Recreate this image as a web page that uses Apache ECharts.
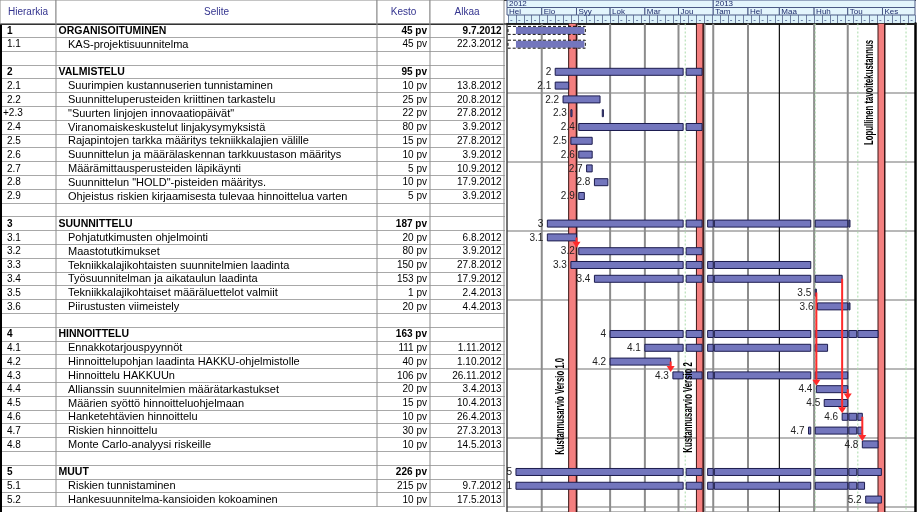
<!DOCTYPE html>
<html><head><meta charset="utf-8">
<script src="https://cdn.jsdelivr.net/npm/echarts@6/dist/echarts.min.js"></script>
<style>html,body{margin:0;padding:0;background:#fff}#c{width:917px;height:512px}</style>
</head><body><div id="c"></div>
<script>
// ---------------- DATA ----------------
const columns = ['Hierarkia', 'Selite', 'Kesto', 'Alkaa'];
const hier = ['1','1.1','','2','2.1','2.2','+2.3','2.4','2.5','2.6','2.7','2.8','2.9','','3','3.1','3.2','3.3','3.4','3.5','3.6','','4','4.1','4.2','4.3','4.4','4.5','4.6','4.7','4.8','','5','5.1','5.2'];
const selite = ['ORGANISOITUMINEN','KAS-projektisuunnitelma','','VALMISTELU',
 'Suurimpien kustannuserien tunnistaminen','Suunnitteluperusteiden kriittinen tarkastelu',
 '"Suurten linjojen innovaatiopäivät"','Viranomaiskeskustelut linjakysymyksistä',
 'Rajapintojen tarkka määritys tekniikkalajien välille','Suunnittelun ja määrälaskennan tarkkuustason määritys',
 'Määrämittausperusteiden läpikäynti','Suunnittelun "HOLD"-pisteiden määritys.',
 'Ohjeistus riskien kirjaamisesta tulevaa hinnoittelua varten','','SUUNNITTELU',
 'Pohjatutkimusten ohjelmointi','Maastotutkimukset','Tekniikkalajikohtaisten suunnitelmien laadinta',
 'Työsuunnitelman ja aikataulun laadinta','Tekniikkalajikohtaiset määräluettelot valmiit','Piirustusten viimeistely','',
 'HINNOITTELU','Ennakkotarjouspyynnöt','Hinnoittelupohjan laadinta HAKKU-ohjelmistolle','Hinnoittelu HAKKUUn',
 'Allianssin suunnitelmien määrätarkastukset','Määrien syöttö hinnoitteluohjelmaan','Hanketehtävien hinnoittelu',
 'Riskien hinnoittelu','Monte Carlo-analyysi riskeille','','MUUT','Riskien tunnistaminen','Hankesuunnitelma-kansioiden kokoaminen'];
const kesto = [45,45,null,95,10,25,22,80,15,10,5,10,5,null,187,20,80,150,153,1,20,null,163,111,40,106,20,15,10,30,10,null,226,215,10];
const alkaa = ['9.7.2012','22.3.2012','','','13.8.2012','20.8.2012','27.8.2012','3.9.2012','27.8.2012','3.9.2012','10.9.2012','17.9.2012','3.9.2012','',
 '','6.8.2012','3.9.2012','27.8.2012','17.9.2012','2.4.2013','4.4.2013','',
 '','1.11.2012','1.10.2012','26.11.2012','3.4.2013','10.4.2013','26.4.2013','27.3.2013','14.5.2013','',
 '','9.7.2012','17.5.2013'];
const barStartOverride = {'1.1': '9.7.2012'};
const splitPieces = {'+2.3': [['27.8.2012', 1], ['24.9.2012', 1]]};
const dashedRows = ['1', '1.1'];
const holidays = ['24.12.2012','25.12.2012','26.12.2012','1.1.2013','29.3.2013','1.4.2013','1.5.2013','9.5.2013'];
const splitDays = ['6.12.2012'];
const links = [['3.1','3.2'],['4.2','4.3'],['3.5','4.4'],['3.4','4.6'],['4.4','4.5'],['4.6','4.8']];
const markerFrom = ['25.8.2012', '17.12.2012', '28.5.2013'];
const markerTo = ['31.8.2012', '22.12.2012', '2.6.2013'];
const markerText = ['Kustannusarvio Versio 1.0', 'Kustannusarvio Versio 2', 'Lopullinen tavoitekustannus'];
const years = [['1.7.2012','2012'],['1.1.2013','2013']];
const months = [['1.7.2012','Hei'],['1.8.2012','Elo'],['1.9.2012','Syy'],['1.10.2012','Lok'],['1.11.2012','Mar'],['1.12.2012','Jou'],
 ['1.1.2013','Tam'],['1.2.2013','Hel'],['1.3.2013','Maa'],['1.4.2013','Huh'],['1.5.2013','Tou'],['1.6.2013','Kes']];
const holidayLines = ['7.12.2012','2.4.2013','10.5.2013','22.6.2013'];
const grayLines = ['24.12.2012'];

// ---------------- LAYOUT / STYLE ----------------
const AXIS_MAX = 364;           // days from 1.7.2012 to 30.6.2013
const ROW_MAX = 35.4;
const colEdges = [0, 56, 377, 430, 504];
const markerLabelRow = [31.25, 31.1, 8.8];
const blackMonths = ['Maa', 'Kes'];
const FONT = 'Liberation Sans, Arial, sans-serif';
const BAR_FILL = '#7376bd', BAR_STROKE = '#1c1c4e';

// ---------------- HELPERS ----------------
const BASE = Date.UTC(2012, 6, 1);
function dnum(s) { const p = s.split('.').map(Number); return Math.round((Date.UTC(p[2], p[1]-1, p[0]) - BASE) / 864e5); }
const holidaySet = new Set(holidays.map(dnum));
const splitSet = new Set(splitDays.map(dnum));
function isWeekend(n) { const w = ((n % 7) + 7) % 7; return w === 0 || w === 6; }
function isWork(n) { return !isWeekend(n) && !holidaySet.has(n); }
function endAfter(start, dur) { let n = start, c = 0; while (true) { if (isWork(n)) { c++; if (c >= dur) return n + 1; } n++; } }
function segs(start, end) {
  const out = []; let s = null, last = null, sl = 0;
  for (let n = start; n < end; n++) {
    if (holidaySet.has(n)) { if (s !== null) { out.push([s, last + 1, sl, 0]); s = null; } continue; }
    if (isWeekend(n)) continue;
    if (splitSet.has(n) && s !== null) { out.push([s, n + 0.5, sl, 1]); s = n + 0.5; sl = 1; last = n; continue; }
    if (s === null) { s = n; sl = 0; }
    last = n;
  }
  if (s !== null) out.push([s, last + 1, sl, 0]);
  return out;
}
const idOf = h => h.replace('+', '');
const isSummary = i => hier[i] !== '' && !hier[i].includes('.');
const rowOf = id => hier.findIndex(h => idOf(h) === id);

const range = {}; const pieces = {};
hier.forEach((h, i) => {
  if (!h || isSummary(i)) return;
  if (splitPieces[h]) {
    const ps = splitPieces[h].map(p => { const st = dnum(p[0]); return [st, endAfter(st, p[1])]; });
    pieces[idOf(h)] = ps;
    range[idOf(h)] = [Math.min(...ps.map(p => p[0])), Math.max(...ps.map(p => p[1]))];
  } else {
    const st = dnum(barStartOverride[h] || alkaa[i]);
    range[h] = [st, endAfter(st, kesto[i])];
  }
});
hier.forEach((h, i) => {
  if (!isSummary(i)) return;
  if (alkaa[i]) { const st = dnum(alkaa[i]); range[h] = [st, endAfter(st, kesto[i])]; return; }
  const ch = Object.keys(range).filter(k => k.startsWith(h + '.'));
  range[h] = [Math.min(...ch.map(k => range[k][0])), Math.max(...ch.map(k => range[k][1]))];
});

const barData = [], labelData = [];
hier.forEach((h, i) => {
  const id = idOf(h); if (!h || !range[id]) return;
  const dashed = dashedRows.includes(id) ? 1 : 0;
  const list = pieces[id] ? pieces[id].map(p => [p[0], p[1], 0, 0]) : segs(range[id][0], range[id][1]);
  list.forEach(s => barData.push([i, s[0], s[1], s[2], s[3], dashed]));
  if (!dashed) labelData.push([i, range[id][0]]);
});
const linkData = links.map(l => [range[l[0]][1], rowOf(l[0]), rowOf(l[1])]);
const markerData = markerFrom.map((f, k) => [dnum(f), dnum(markerTo[k]) + 1, k]);
const headerCells = [];
years.forEach((y, k) => headerCells.push([dnum(y[0]), k + 1 < years.length ? dnum(years[k+1][0]) : AXIS_MAX, 0, k]));
months.forEach((m, k) => headerCells.push([dnum(m[0]), k + 1 < months.length ? dnum(months[k+1][0]) : AXIS_MAX, 1, k]));
const monthLineData = months.slice(1).map((m, k) => [dnum(m[0]), k + 1]);

// ---------------- CHART ----------------
const chart = echarts.init(document.getElementById('c'), null, {renderer: 'canvas'});
const hidden = {axisTick: {show: false}, axisLabel: {show: false}, splitLine: {show: false}};
const option = {
  animation: false,
  backgroundColor: '#fff',
  grid: [
    {left: 0, top: 0, width: 505, height: 23.5, outerBoundsMode: 'none'},
    {left: 0, top: 23.5, width: 505, bottom: 0, outerBoundsMode: 'none'},
    {left: 507, right: 2, top: 0, height: 15, outerBoundsMode: 'none'},
    {left: 508.12, right: 2, top: 15, height: 8.5, show: true, backgroundColor: '#dcf2fa', borderWidth: 0, outerBoundsMode: 'none'},
    {left: 507, right: 2, top: 23.5, bottom: 0, outerBoundsMode: 'none'}
  ],
  xAxis: [
    Object.assign({gridIndex: 0, type: 'value', min: 0, max: 505, position: 'top', axisLine: {show: true, onZero: false, lineStyle: {color: '#000', width: 2}}}, hidden),
    Object.assign({gridIndex: 1, type: 'value', min: 0, max: 505, position: 'top', axisLine: {show: true, onZero: false, lineStyle: {color: '#333', width: 2}}}, hidden),
    Object.assign({gridIndex: 2, type: 'value', min: 0, max: AXIS_MAX, position: 'top', axisLine: {show: true, onZero: false, lineStyle: {color: '#000', width: 2}}}, hidden),
    {gridIndex: 3, type: 'value', min: 0, max: AXIS_MAX - 1, interval: 7, axisLine: {show: false}, axisTick: {show: false},
     splitLine: {show: true, lineStyle: {color: '#6f7fa0', width: 1}},
     axisLabel: {inside: true, margin: 0, formatter: () => '-', fontSize: 8, color: '#1d2b6b', align: 'left', padding: [0, 0, 0, 2], showMaxLabel: false, showMinLabel: true}},
    Object.assign({gridIndex: 4, type: 'value', min: 0, max: AXIS_MAX, position: 'top', axisLine: {show: true, onZero: false, lineStyle: {color: '#222', width: 2}}}, hidden)
  ],
  yAxis: [
    Object.assign({gridIndex: 0, type: 'value', min: 0, max: 1, axisLine: {show: true, onZero: false, lineStyle: {color: '#000', width: 4}}}, hidden),
    {gridIndex: 1, type: 'value', min: 0, max: ROW_MAX, inverse: true, interval: 1, axisLine: {show: true, onZero: false, lineStyle: {color: '#000', width: 4}},
     axisTick: {show: false}, axisLabel: {show: false}, splitLine: {show: true, lineStyle: {color: '#a8a8a8', width: 1}}},
    {gridIndex: 2, type: 'value', min: 0, max: 2, inverse: true, show: false},
    {gridIndex: 3, type: 'value', min: 0, max: 1, show: false},
    {gridIndex: 4, type: 'value', min: 0, max: ROW_MAX, inverse: true, interval: 5, axisLine: {show: true, onZero: false, lineStyle: {color: '#444', width: 1.5}},
     axisTick: {show: false}, axisLabel: {show: false}, splitLine: {show: true, lineStyle: {color: '#a0a0a0', width: 1.5}}},
    Object.assign({gridIndex: 4, type: 'value', position: 'right', min: 0, max: ROW_MAX, inverse: true, axisLine: {show: true, onZero: false, lineStyle: {color: '#000', width: 2.5}}}, hidden)
  ],
  series: [
    // table header
    {type: 'custom', xAxisIndex: 0, yAxisIndex: 0, data: columns.map((c, k) => [k]), renderItem(params, api) {
      const k = api.value(0); const cs = params.coordSys;
      const x1 = api.coord([colEdges[k], 0])[0], x2 = api.coord([colEdges[k + 1], 0])[0];
      return {type: 'group', children: [
        {type: 'rect', shape: {x: x1, y: cs.y, width: x2 - x1, height: cs.height}, style: {fill: '#fff', stroke: '#8a8a8a', lineWidth: 1}},
        {type: 'text', x: (x1 + x2) / 2, y: cs.y + cs.height / 2 + 0.5, style: {text: columns[k], fill: '#34348f', fontSize: 10, fontFamily: FONT, align: 'center', verticalAlign: 'middle'}}
      ]};
    }},
    // table body
    {type: 'custom', xAxisIndex: 1, yAxisIndex: 1, data: hier.map((h, i) => [i]), renderItem(params, api) {
      const i = api.value(0);
      const top = api.coord([0, i])[1], bot = api.coord([0, i + 1])[1], yc = (top + bot) / 2 + 0.5;
      const ch = [];
      colEdges.slice(1).forEach(cx => { const x = api.coord([cx, i])[0]; ch.push({type: 'line', shape: {x1: x, y1: top, x2: x, y2: bot}, style: {stroke: '#8c8c8c', lineWidth: 1}}); });
      const sum = isSummary(i);
      const base = {fill: '#000', fontSize: 10, fontFamily: FONT, verticalAlign: 'middle', fontWeight: sum ? 'bold' : 'normal'};
      const h = hier[i];
      if (h) ch.push({type: 'text', x: api.coord([h.startsWith('+') ? 3 : 7, i])[0], y: yc, style: Object.assign({text: h, align: 'left'}, base)});
      if (selite[i]) ch.push({type: 'text', x: api.coord([sum ? 58.5 : 68, i])[0], y: yc, style: Object.assign({}, base, {text: selite[i], align: 'left', fontSize: sum ? 10.5 : 11})});
      if (kesto[i] != null) ch.push({type: 'text', x: api.coord([427, i])[0], y: yc, style: Object.assign({text: kesto[i] + ' pv', align: 'right'}, base)});
      if (alkaa[i]) ch.push({type: 'text', x: api.coord([501.5, i])[0], y: yc, style: Object.assign({text: alkaa[i], align: 'right'}, base)});
      return {type: 'group', children: ch};
    }},
    // gantt header: years and months
    {type: 'custom', xAxisIndex: 2, yAxisIndex: 2, data: headerCells, renderItem(params, api) {
      const a = api.value(0), b = api.value(1), r = api.value(2), li = api.value(3);
      const p1 = api.coord([a, r]), p2 = api.coord([b, r + 1]);
      const label = r === 0 ? years[li][1] : months[li][1];
      return {type: 'group', children: [
        {type: 'rect', shape: {x: p1[0], y: p1[1], width: p2[0] - p1[0], height: p2[1] - p1[1]}, style: {fill: '#e3f5fc', stroke: '#4b5a85', lineWidth: 1}},
        {type: 'text', x: p1[0] + 2, y: (p1[1] + p2[1]) / 2 + 0.5, style: {text: label, fill: '#1d2b6b', fontSize: 8, fontFamily: FONT, align: 'left', verticalAlign: 'middle'}}
      ]};
    }},
    // month lines
    {type: 'custom', xAxisIndex: 4, yAxisIndex: 4, data: monthLineData, clip: true, renderItem(params, api) {
      const x = api.coord([api.value(0), 0])[0]; const cs = params.coordSys;
      const black = blackMonths.includes(months[api.value(1)][1]);
      return {type: 'line', shape: {x1: x, y1: cs.y, x2: x, y2: cs.y + cs.height}, style: {stroke: black ? '#111' : '#8c8c8c', lineWidth: black ? 1.2 : 2}};
    }},
    // holiday lines
    {type: 'custom', xAxisIndex: 4, yAxisIndex: 4, data: holidayLines.map(d => [dnum(d), 0]).concat(grayLines.map(d => [dnum(d), 1])), clip: true, renderItem(params, api) {
      const x = api.coord([api.value(0), 0])[0]; const cs = params.coordSys; const g = api.value(1) === 1;
      return {type: 'line', shape: {x1: x, y1: cs.y, x2: x, y2: cs.y + cs.height},
        style: g ? {stroke: '#9a9a9a', lineWidth: 2.5} : {stroke: '#a9dca9', lineWidth: 1, lineDash: [2, 2]}};
    }},
    // marker bands
    {type: 'custom', xAxisIndex: 4, yAxisIndex: 4, data: markerData, clip: true, renderItem(params, api) {
      const cs = params.coordSys;
      const x1 = api.coord([api.value(0), 0])[0], x2 = api.coord([api.value(1), 0])[0];
      return {type: 'group', children: [
        {type: 'rect', shape: {x: x1, y: cs.y, width: x2 - x1, height: cs.height}, style: {fill: '#f47f7f'}},
        {type: 'line', shape: {x1: x1, y1: cs.y, x2: x1, y2: cs.y + cs.height}, style: {stroke: '#3a1515', lineWidth: 1}},
        {type: 'line', shape: {x1: x2, y1: cs.y, x2: x2, y2: cs.y + cs.height}, style: {stroke: '#3a1515', lineWidth: 1.5}}
      ]};
    }},
    // bars
    {type: 'custom', xAxisIndex: 4, yAxisIndex: 4, data: barData, clip: true, renderItem(params, api) {
      const r = api.value(0), a = api.value(1), b = api.value(2), il = api.value(3) ? 1.5 : 0, ir = api.value(4) ? 1.5 : 0, dashed = api.value(5);
      const p1 = api.coord([a, r + 0.5]), p2 = api.coord([b, r + 0.5]);
      const x = p1[0] + il, w = Math.max(1, p2[0] - p1[0] - il - ir);
      if (dashed) {
        const x0 = params.coordSys.x;
        return {type: 'group', children: [
          {type: 'rect', shape: {x: x, y: p1[1] - 3.5, width: w, height: 7}, style: {fill: BAR_FILL}},
          {type: 'rect', shape: {x: x0 + 1, y: p1[1] - 4, width: p2[0] - x0, height: 8}, style: {fill: 'none', stroke: '#111', lineWidth: 1, lineDash: [3, 2]}}
        ]};
      }
      return {type: 'rect', shape: {x: x, y: p1[1] - 3.5, width: w, height: 7}, style: {fill: BAR_FILL, stroke: BAR_STROKE, lineWidth: 1}};
    }},
    // bar labels
    {type: 'custom', xAxisIndex: 4, yAxisIndex: 4, data: labelData, clip: true, renderItem(params, api) {
      const r = api.value(0); const p = api.coord([api.value(1), r + 0.5]);
      return {type: 'text', x: p[0] - 4, y: p[1] + 0.5, style: {text: idOf(hier[r]), fill: '#222', fontSize: 10, fontFamily: FONT, align: 'right', verticalAlign: 'middle'}};
    }},
    // dependency links
    {type: 'custom', xAxisIndex: 4, yAxisIndex: 4, data: linkData, clip: true, renderItem(params, api) {
      const x = api.coord([api.value(0), 0])[0];
      const yA = api.coord([0, api.value(1) + 0.5])[1];
      const yB = api.coord([0, api.value(2) + 0.5])[1] - 3.5;
      return {type: 'group', children: [
        {type: 'line', shape: {x1: x, y1: yA, x2: x, y2: yB - 5}, style: {stroke: '#ff2a2a', lineWidth: 2}},
        {type: 'polygon', shape: {points: [[x - 4, yB - 6], [x + 4, yB - 6], [x, yB]]}, style: {fill: '#ff2a2a'}}
      ]};
    }},
    // marker labels
    {type: 'custom', xAxisIndex: 4, yAxisIndex: 4, data: markerData, clip: true, renderItem(params, api) {
      const k = api.value(2);
      const x = api.coord([api.value(0), 0])[0] - 1.5;
      const y = api.coord([0, markerLabelRow[k]])[1];
      return {type: 'text', x: x, y: y, rotation: Math.PI / 2, scaleX: 0.62,
        style: {text: markerText[k], fill: '#000', fontSize: 12.5, fontWeight: 'bold', fontFamily: FONT, align: 'left', verticalAlign: 'bottom'}};
    }}
  ]
};
chart.setOption(option);
</script>
</body></html>
